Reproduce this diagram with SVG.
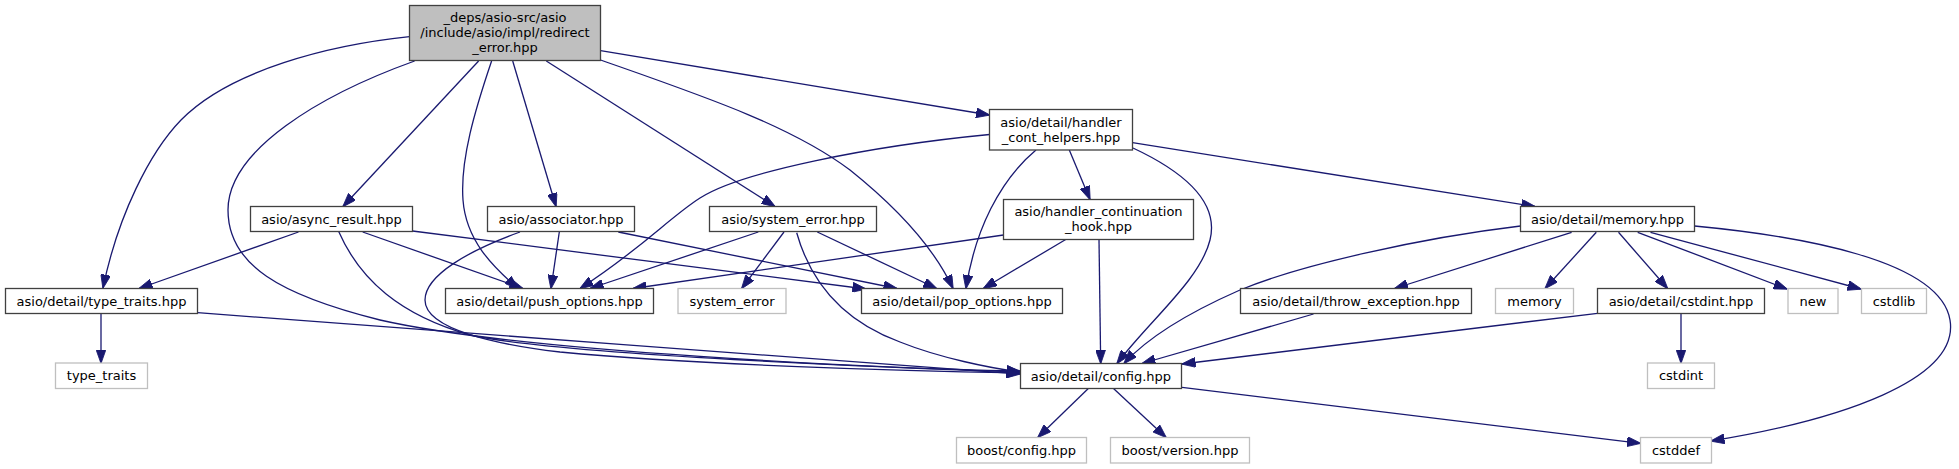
<svg xmlns="http://www.w3.org/2000/svg" width="1959" height="469" viewBox="0 0 1959 469">
<style>
.n rect{fill:#ffffff;stroke:#404040;stroke-width:1.3}
.g rect{fill:#ffffff;stroke:#bfbfbf;stroke-width:1.3}
.r rect{fill:#bfbfbf;stroke:#404040;stroke-width:1.3}
text{font-family:"DejaVu Sans",sans-serif;font-size:13px;fill:#000000;text-anchor:middle}
.e path{fill:none;stroke:#191970;stroke-width:1.3;marker-end:url(#ah)}
</style>
<defs>
<marker id="ah" markerUnits="userSpaceOnUse" markerWidth="14" markerHeight="10" viewBox="0 0 13.5 9.6" refX="13" refY="4.8" orient="auto">
<path d="M0,0 L13.5,4.8 L0,9.6 z" fill="#191970" stroke="#191970" stroke-width="0.8"/>
</marker>
</defs>
<rect width="1959" height="469" fill="#ffffff"/>
<g class="e" id="edges">
<path d="M409.5,36.7 C330,45 230,70 181,120 C150,152 118,215 103,288"/>
<path d="M414.6,61 C320,95 228,150 228,210 C228,265 280,295 380,320 C520,352 880,368 1020,371"/>
<path d="M478.6,61 L343,206.5"/>
<path d="M491.6,61 C475,110 460,160 463,200 C466,240 492,266 518,288.5"/>
<path d="M512.7,61 L556,206.5"/>
<path d="M546.3,61 L775,206.5"/>
<path d="M600.6,60 C700,95 790,125 850,170 C900,210 935,250 953,288.5"/>
<path d="M600.6,50.7 L989.5,115"/>
<path d="M298.5,232 L139,288.5"/>
<path d="M362.7,232 L523,288.5"/>
<path d="M412.5,231 L866,289"/>
<path d="M338.8,231.7 C360,280 400,315 470,335 C560,355 900,368 1020,372"/>
<path d="M559.3,232 L551,288.5"/>
<path d="M618.3,232 L897,288.5"/>
<path d="M520,232 C470,250 425,275 425,300 C425,330 500,345 560,352 C700,365 900,371 1020,373"/>
<path d="M758.3,232 L590,288.5"/>
<path d="M784,232 L741.7,288.5"/>
<path d="M817.3,232 L936.7,288.5"/>
<path d="M796.7,232.7 C810,280 840,320 900,342 C940,358 990,368 1020,372"/>
<path d="M989.5,134.5 C870,146 740,172 700,198 C670,217 640,250 580,288.5"/>
<path d="M1036,150 C1000,180 975,230 966,288.5"/>
<path d="M1069.3,150 L1090,199.5"/>
<path d="M1133,148 C1180,170 1220,200 1210,240 C1200,280 1150,320 1117,363.5"/>
<path d="M1132.5,142.7 L1535,206.5"/>
<path d="M1003.5,235 L633,288.5"/>
<path d="M1065.7,239.5 L983.3,288.5"/>
<path d="M1099,239.5 L1100.7,363.5"/>
<path d="M1520.5,226 C1420,238 1300,265 1240,290 C1190,312 1150,335 1124,363.5"/>
<path d="M1571.6,232.3 L1394.5,288.5"/>
<path d="M1596.3,232.3 L1545.1,288.5"/>
<path d="M1618.5,232.3 L1667.6,288.5"/>
<path d="M1637.7,232.3 L1787,289"/>
<path d="M1650.5,232.3 L1861,289"/>
<path d="M1694.5,226 C1800,236 1940,260 1950,320 C1960,380 1840,420 1711,441"/>
<path d="M1313.5,314 L1142,363.5"/>
<path d="M1597.5,313.3 L1182,364"/>
<path d="M1681,313.5 L1681,363"/>
<path d="M101,314 L101,363"/>
<path d="M197.5,312.7 C400,328 800,358 1020,374"/>
<path d="M1088.3,388.5 L1037.8,437.5"/>
<path d="M1113.5,388.5 L1166.1,437.5"/>
<path d="M1182,387.3 L1640.5,443.3"/>
</g>
<g id="root" class="r"><rect x="409.5" y="5.5" width="191" height="55"/><text x="505" y="21.5">_deps/asio-src/asio</text><text x="505" y="36.5">/include/asio/impl/redirect</text><text x="505" y="51.5">_error.hpp</text></g>
<g id="type_traits_hpp" class="n"><rect x="5.5" y="288.5" width="192" height="25"/><text x="101.5" y="305.5">asio/detail/type_traits.hpp</text></g>
<g id="type_traits" class="g"><rect x="55.5" y="363" width="92" height="25.5"/><text x="101.5" y="380">type_traits</text></g>
<g id="async_result" class="n"><rect x="250.5" y="206.5" width="162" height="25"/><text x="331.5" y="223.5">asio/async_result.hpp</text></g>
<g id="associator" class="n"><rect x="487.5" y="206.5" width="147" height="25"/><text x="561" y="223.5">asio/associator.hpp</text></g>
<g id="push_options" class="n"><rect x="445.5" y="288.5" width="208" height="25"/><text x="549.5" y="305.5">asio/detail/push_options.hpp</text></g>
<g id="system_error_hpp" class="n"><rect x="709.5" y="206.5" width="167" height="25"/><text x="793" y="223.5">asio/system_error.hpp</text></g>
<g id="system_error" class="g"><rect x="678" y="288.5" width="108" height="25"/><text x="732" y="305.5">system_error</text></g>
<g id="pop_options" class="n"><rect x="861.5" y="288.5" width="201" height="25"/><text x="962" y="305.5">asio/detail/pop_options.hpp</text></g>
<g id="handler_cont_helpers" class="n"><rect x="989.5" y="109.5" width="143" height="40.5"/><text x="1061" y="126.5">asio/detail/handler</text><text x="1061" y="141.5">_cont_helpers.hpp</text></g>
<g id="handler_continuation_hook" class="n"><rect x="1003.5" y="199.5" width="190" height="40"/><text x="1098.5" y="216">asio/handler_continuation</text><text x="1098.5" y="231">_hook.hpp</text></g>
<g id="config" class="n"><rect x="1020.5" y="363.5" width="161" height="25"/><text x="1101" y="380.5">asio/detail/config.hpp</text></g>
<g id="boost_config" class="g"><rect x="956.5" y="437.5" width="130" height="25.5"/><text x="1021.5" y="454.5">boost/config.hpp</text></g>
<g id="boost_version" class="g"><rect x="1110.5" y="437.5" width="139" height="25.5"/><text x="1180" y="454.5">boost/version.hpp</text></g>
<g id="memory_hpp" class="n"><rect x="1520.5" y="206.5" width="174" height="25"/><text x="1607.5" y="223.5">asio/detail/memory.hpp</text></g>
<g id="throw_exception" class="n"><rect x="1240.5" y="288.5" width="231" height="25"/><text x="1356" y="305.5">asio/detail/throw_exception.hpp</text></g>
<g id="memory" class="g"><rect x="1495.5" y="288.5" width="78" height="25"/><text x="1534.5" y="305.5">memory</text></g>
<g id="cstdint_hpp" class="n"><rect x="1597.5" y="288.5" width="167" height="25"/><text x="1681" y="305.5">asio/detail/cstdint.hpp</text></g>
<g id="new" class="g"><rect x="1788" y="288.5" width="50" height="25"/><text x="1813" y="305.5">new</text></g>
<g id="cstdlib" class="g"><rect x="1861.5" y="288.5" width="65" height="25"/><text x="1894" y="305.5">cstdlib</text></g>
<g id="cstdint" class="g"><rect x="1647.5" y="363" width="67" height="25.5"/><text x="1681" y="380">cstdint</text></g>
<g id="cstddef" class="g"><rect x="1640.5" y="437.5" width="71" height="25.5"/><text x="1676" y="454.5">cstddef</text></g>
</svg>
